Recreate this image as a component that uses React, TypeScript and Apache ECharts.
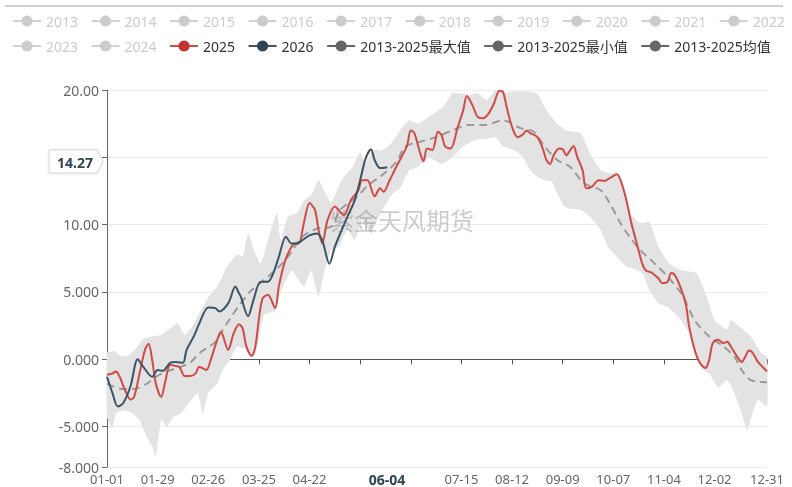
import React, { useEffect, useRef } from "react";
import * as echarts from "echarts";

const FONT = '"Noto Sans", "Noto Sans CJK SC", sans-serif';

// 366 calendar days of a leap-year template, "MM-DD"
const categories: string[] = (() => {
  const out: string[] = [];
  const d = new Date(Date.UTC(2024, 0, 1));
  for (let i = 0; i < 366; i++) {
    const m = String(d.getUTCMonth() + 1).padStart(2, "0");
    const dd = String(d.getUTCDate()).padStart(2, "0");
    out.push(`${m}-${dd}`);
    d.setUTCDate(d.getUTCDate() + 1);
  }
  return out;
})();

const tickLabels = ["01-01", "01-29", "02-26", "03-25", "04-22", "07-15", "08-12", "09-09", "10-07", "11-04", "12-02", "12-31"];
const tickMarks = ["01-01", "01-29", "02-26", "03-25", "04-22", "05-20", "06-17", "07-15", "08-12", "09-09", "10-07", "11-04", "12-02", "12-31"];

const hiddenYears = ["2013", "2014", "2015", "2016", "2017", "2018", "2019", "2020", "2021", "2022", "2023", "2024"];
const legendRow1 = ["2013", "2014", "2015", "2016", "2017", "2018", "2019", "2020", "2021", "2022"];
const NAME_MAX = "2013-2025最大值";
const NAME_MIN = "2013-2025最小值";
const NAME_AVG = "2013-2025均值";

// [day of year (0 = 01-01), value]
const series2025: [number, number][] = [
  [0, -1.15], [3, -1.05], [5, -0.9], [7, -1.3], [10, -2.3], [13, -3.0], [15, -2.8], [18, -1.05], [21, 0.7], [23, 1.15],
  [25, -0.05], [27, -1.8], [30, -2.8], [32, -1.8], [35, -0.4], [38, -0.5], [40, -0.55], [43, -1.25], [46, -1.25], [49, -1.05],
  [51, -0.55], [55, -0.8], [57, -0.2], [60, 1.05], [63, 2.05], [67, 0.7], [70, 1.9], [73, 2.6], [75, 2.3], [77, 1.0],
  [80, 0.25], [82, 0.9], [84, 3.0], [86, 4.5], [89, 4.8], [93, 3.8], [95, 5.4], [98, 7.1], [101, 8.1], [104, 8.6],
  [106, 8.6], [109, 10.2], [112, 11.6], [115, 11.1], [117, 9.6], [119, 8.6], [122, 10.35], [126, 11.35], [129, 10.95], [131, 10.7],
  [135, 11.85], [139, 12.55], [141, 13.3], [144, 13.3], [148, 12.1], [151, 12.7], [153, 12.45], [156, 13.2], [160, 14.3], [163, 15.05],
  [166, 15.9], [168, 17.0], [170, 16.8], [173, 15.4], [175, 14.7], [177, 15.65], [180, 15.55], [183, 16.9], [185, 16.65], [187, 15.8],
  [190, 15.65], [194, 17.25], [197, 18.5], [199, 19.55], [202, 18.9], [205, 18.0], [208, 17.9], [211, 18.25], [214, 19.0], [217, 19.95],
  [219, 19.85], [221, 18.75], [224, 17.25], [227, 16.5], [230, 16.7], [232, 17.0], [234, 16.8], [238, 16.5], [241, 15.65], [243, 14.8],
  [245, 14.5], [247, 15.15], [250, 15.65], [252, 15.6], [254, 15.15], [256, 15.5], [258, 15.85], [260, 15.05], [263, 14.05], [265, 12.7],
  [268, 12.8], [272, 13.3], [275, 13.25], [278, 13.45], [282, 13.75], [284, 13.3], [287, 11.95], [290, 10.1], [293, 8.6], [296, 7.1],
  [298, 6.6], [301, 6.45], [302, 6.35], [305, 6.0], [307, 5.65], [310, 5.75], [312, 6.4], [314, 6.25], [317, 5.4], [320, 4.15],
  [322, 2.4], [325, 0.7], [328, -0.3], [331, -0.65], [333, -0.05], [335, 1.2], [338, 1.45], [341, 1.2], [343, 1.3], [345, 0.95],
  [348, 0.3], [351, -0.2], [353, 0.2], [355, 0.65], [357, 0.5], [360, -0.2], [365, -0.9],
];

const series2026: [number, number][] = [
  [0, -1.3], [3, -2.5], [6, -3.5], [9, -3.25], [13, -2.0], [17, 0.0], [20, -0.55], [25, -1.3], [28, -0.8], [31, -0.85],
  [35, -0.25], [38, -0.2], [42, -0.25], [44, 0.7], [48, 1.7], [51, 2.65], [56, 3.85], [60, 3.8], [62, 3.55], [67, 4.15],
  [71, 5.4], [73, 4.9], [74, 4.65], [78, 3.2], [81, 4.4], [85, 5.75], [89, 5.75], [92, 6.4], [95, 7.6], [99, 9.1],
  [102, 8.6], [105, 8.6], [108, 8.85], [112, 9.2], [116, 9.35], [119, 8.85], [123, 7.1], [126, 8.35], [129, 9.35], [133, 10.6],
  [137, 11.8], [140, 13.3], [143, 14.9], [146, 15.6], [148, 14.8], [151, 14.2], [155, 14.27],
];

const seriesAvg: [number, number][] = [
  [0, -1.8], [8, -2.2], [15, -2.2], [22, -1.8], [27, -1.3], [33, -0.9], [40, -0.6], [46, -0.25], [51, 0.45], [56, 0.9],
  [60, 1.3], [64, 2.2], [68, 3.0], [72, 3.8], [79, 5.0], [86, 5.8], [93, 6.6], [100, 7.6], [108, 9.1], [116, 9.7],
  [124, 9.85], [129, 11.1], [138, 12.05], [145, 13.0], [151, 13.55], [160, 14.65], [165, 15.8], [173, 16.15], [182, 16.5], [191, 17.0],
  [200, 17.4], [209, 17.4], [219, 17.75], [229, 17.15], [236, 16.9], [242, 15.8], [249, 14.8], [256, 14.3], [264, 13.05], [273, 12.55],
  [278, 11.6], [284, 10.1], [289, 9.1], [295, 8.1], [301, 7.35], [310, 6.15], [318, 4.8], [325, 2.9], [333, 1.7], [340, 1.05],
  [347, 0.2], [351, -0.8], [356, -1.55], [365, -1.7],
];

const seriesMax: [number, number][] = [
  [0, 0.5], [4, 0.6], [8, 0.2], [12, 0.3], [16, 0.8], [20, 1.5], [25, 1.7], [30, 1.8], [35, 2.3], [39, 2.7],
  [43, 1.8], [47, 2.4], [51, 3.4], [56, 4.6], [61, 5.4], [66, 6.8], [72, 7.8], [75, 7.6], [78, 9.35], [82, 7.85],
  [85, 7.1], [89, 8.85], [94, 10.85], [96, 8.85], [100, 10.6], [105, 10.85], [109, 11.8], [113, 12.2], [117, 13.3], [120, 12.55],
  [124, 11.6], [128, 12.8], [131, 13.55], [136, 14.3], [140, 15.4], [143, 14.55], [147, 15.55], [152, 15.5], [157, 16.0], [162, 17.0],
  [167, 17.75], [172, 17.5], [178, 18.0], [186, 18.75], [191, 19.75], [196, 19.75], [200, 19.6], [205, 19.75], [210, 19.25], [215, 20.0],
  [220, 19.8], [226, 19.9], [232, 19.9], [238, 19.7], [243, 18.5], [249, 17.5], [254, 17.0], [262, 16.8], [267, 15.3], [273, 14.05],
  [278, 13.8], [282, 13.9], [286, 12.3], [289, 10.85], [295, 10.1], [300, 10.2], [305, 8.35], [311, 7.1], [318, 6.6], [326, 6.4],
  [331, 4.9], [336, 2.9], [343, 2.2], [345, 2.9], [350, 2.4], [356, 1.7], [362, 0.45], [365, 0.2],
];

const seriesMin: [number, number][] = [
  [0, -4.3], [3, -5.1], [5, -4.0], [9, -3.8], [14, -4.0], [18, -4.5], [21, -5.5], [25, -6.5], [27, -7.2], [28, -6.3],
  [30, -4.5], [33, -5.0], [37, -4.25], [41, -4.0], [44, -3.5], [50, -2.5], [53, -4.0], [56, -2.5], [61, -1.8], [64, -0.8],
  [68, -0.05], [72, 0.95], [76, 0.8], [80, 0.2], [83, 0.9], [87, 3.3], [93, 3.6], [96, 5.0], [102, 6.6], [106, 5.9],
  [109, 5.4], [113, 6.6], [117, 4.65], [120, 6.4], [124, 8.1], [128, 8.35], [133, 9.6], [137, 8.85], [141, 10.35], [146, 9.35],
  [150, 10.5], [154, 11.5], [158, 12.3], [162, 12.7], [167, 14.0], [172, 14.3], [178, 15.0], [185, 14.5], [191, 15.0], [197, 15.8],
  [204, 16.3], [211, 16.4], [215, 16.5], [219, 15.8], [225, 15.55], [230, 15.05], [234, 14.05], [238, 13.55], [242, 13.3], [246, 13.2],
  [249, 12.3], [253, 11.35], [256, 11.2], [262, 11.1], [267, 10.6], [273, 9.6], [277, 8.35], [282, 7.6], [287, 6.9], [291, 6.75],
  [296, 6.4], [300, 5.15], [305, 4.15], [310, 3.9], [316, 3.15], [323, 1.7], [325, 0.5], [329, -0.7], [333, -1.05], [338, -2.05],
  [343, -1.55], [347, -2.5], [351, -4.0], [354, -5.25], [357, -4.0], [360, -3.0], [365, -3.5],
];

const pointerY = "14.27";
const pointerX = "06-04";
const watermark = "紫金天风期货";

function buildOption(): any {
  const selected: Record<string, boolean> = {};
  hiddenYears.forEach((y) => (selected[y] = false));

  const legendCommon = {
    left: 7,
    width: 785,
    itemWidth: 28,
    itemHeight: 14,
    itemGap: 12.5,
    inactiveColor: "#ccc",
    textStyle: { fontSize: 14, color: "#333", fontFamily: FONT },
    selected,
  };

  const lineBase = { type: "line", symbol: "circle", symbolSize: 8, showSymbol: false, smooth: 0.3 };
  const hiddenSeries = hiddenYears.map((y) => ({ ...lineBase, name: y, data: [] as any[] }));
  const legendIconStyle = {
    lineStyle: { opacity: 1, width: 2, color: "#666", type: "solid" },
    itemStyle: { color: "#666", opacity: 1 },
  };

  return {
    animation: false,
    textStyle: { fontFamily: FONT },
    legend: [
      { ...legendCommon, top: 9, data: legendRow1 },
      {
        ...legendCommon,
        top: 34,
        data: [
          "2023",
          "2024",
          "2025",
          "2026",
          { name: NAME_MAX, ...legendIconStyle },
          { name: NAME_MIN, ...legendIconStyle },
          { name: NAME_AVG, ...legendIconStyle },
        ],
      },
    ],
    grid: { left: 107, right: 25, top: 90, bottom: 20, containLabel: false },
    xAxis: [
      {
        type: "category",
        data: categories,
        boundaryGap: false,
        position: "bottom",
        axisLine: { show: false, onZero: false },
        axisTick: { show: false },
        axisLabel: {
          interval: (_i: number, v: string) => tickLabels.includes(v),
          color: "#666",
          fontSize: 13,
          fontFamily: FONT,
          margin: 5,
        },
        splitLine: { show: false },
      },
      {
        type: "category",
        data: categories,
        boundaryGap: false,
        position: "bottom",
        axisLine: { show: true, onZero: true, lineStyle: { color: "#555", width: 1 } },
        axisTick: {
          show: true,
          interval: (_i: number, v: string) => tickMarks.includes(v),
          length: 5,
          lineStyle: { color: "#555" },
        },
        axisLabel: { show: false },
        splitLine: { show: false },
      },
    ],
    yAxis: {
      type: "value",
      min: -8,
      max: 20,
      axisLine: { show: true, lineStyle: { color: "#666" } },
      axisTick: { show: true, length: 5, lineStyle: { color: "#666" } },
      axisLabel: {
        color: "#666",
        fontSize: 14,
        fontFamily: FONT,
        formatter: (v: number) => (v === 15 ? "" : Number(v).toPrecision(4)),
      },
      splitLine: { show: true, lineStyle: { color: "#ececec" } },
    },
    graphic: [
      { type: "line", shape: { x1: 5, y1: 6, x2: 783, y2: 6 }, style: { stroke: "#d0d0d0", lineWidth: 2 }, silent: true },
      {
        type: "text",
        x: 402,
        y: 219,
        z: 1,
        silent: true,
        style: {
          text: watermark,
          fontSize: 24,
          fontFamily: '"Noto Sans CJK SC", sans-serif',
          fill: "rgba(120,120,120,0.38)",
          align: "center",
          verticalAlign: "middle",
        },
      },
      {
        type: "polygon",
        z: 100,
        shape: { points: [[49, 150], [97, 150], [103, 161.5], [97, 173], [49, 173]] },
        style: { fill: "#fff", stroke: "#d6d6d6", lineWidth: 1, shadowBlur: 3, shadowColor: "rgba(0,0,0,0.12)" },
      },
      {
        type: "text",
        z: 101,
        x: 75,
        y: 162,
        style: { text: pointerY, fontSize: 14, fontWeight: "bold", fill: "#2f4554", fontFamily: FONT, align: "center", verticalAlign: "middle" },
      },
      {
        type: "text",
        z: 101,
        x: 387,
        y: 479,
        style: { text: pointerX, fontSize: 14, fontWeight: "bold", fill: "#2f4554", fontFamily: FONT, align: "center", verticalAlign: "middle" },
      },
    ],
    series: [
      ...hiddenSeries,
      {
        type: "custom",
        name: "band",
        z: 0.5,
        silent: true,
        xAxisIndex: 0,
        data: [[0, 0]],
        renderItem: (_params: any, api: any) => {
          const pts = [
            ...seriesMax.map((p) => api.coord(p)),
            ...seriesMin.slice().reverse().map((p) => api.coord(p)),
          ];
          return { type: "polygon", shape: { points: pts, smooth: 0.15 }, style: { fill: "#e3e3e3" } };
        },
      },
      { ...lineBase, name: NAME_MAX, data: seriesMax, itemStyle: { color: "#666" }, lineStyle: { opacity: 0, width: 2, color: "#666" }, silent: true },
      { ...lineBase, name: NAME_MIN, data: seriesMin, itemStyle: { color: "#666" }, lineStyle: { opacity: 0, width: 2, color: "#666" }, silent: true },
      {
        ...lineBase,
        name: NAME_AVG,
        data: seriesAvg,
        itemStyle: { color: "#666" },
        lineStyle: { color: "#9a9a9a", width: 2, type: [8, 5] },
      },
      { ...lineBase, name: "2025", data: series2025, itemStyle: { color: "#c23531" }, lineStyle: { color: "#d04a47", width: 2 } },
      { ...lineBase, name: "2026", data: series2026, itemStyle: { color: "#2f4554" }, lineStyle: { color: "#3c5466", width: 2 } },
    ],
  };
}

export default function App() {
  const ref = useRef<HTMLDivElement>(null);
  useEffect(() => {
    if (!ref.current) return;
    const chart = echarts.init(ref.current, null, { renderer: "svg" });
    chart.setOption(buildOption());
    return () => chart.dispose();
  }, []);
  return <div ref={ref} style={{ position: "fixed", left: 0, top: 0, width: 792, height: 487 }} />;
}
